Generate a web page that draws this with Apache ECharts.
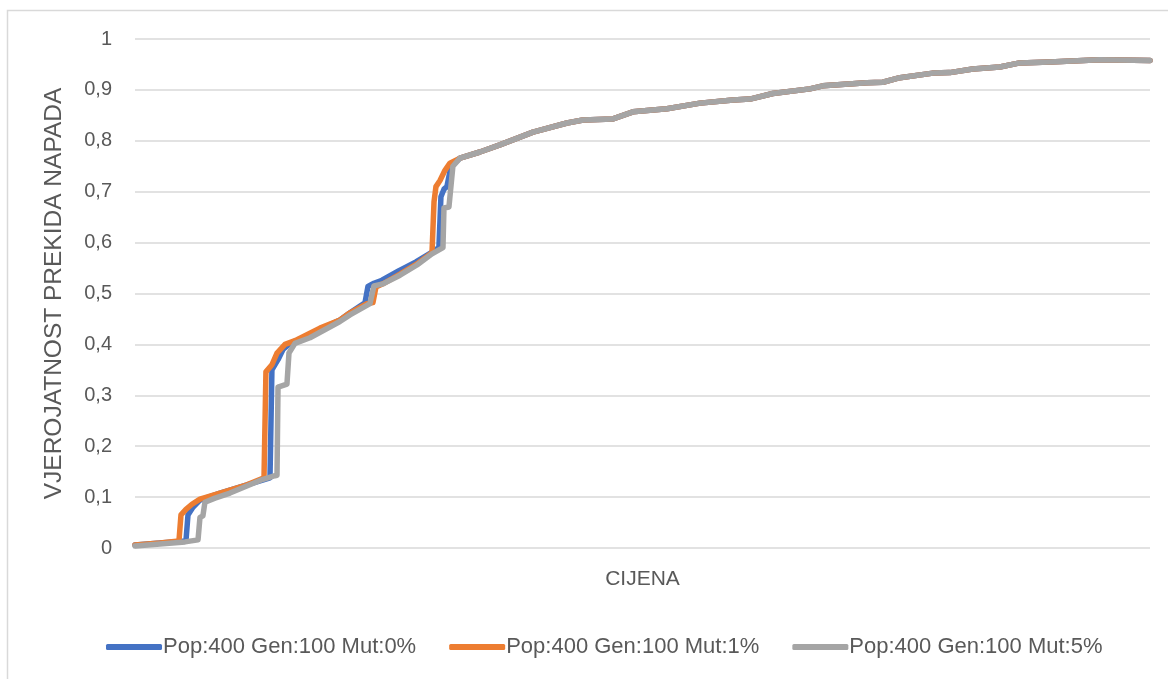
<!DOCTYPE html>
<html>
<head>
<meta charset="utf-8">
<script src="https://cdn.jsdelivr.net/npm/echarts@6/dist/echarts.min.js"></script>
<style>
  html, body { margin: 0; padding: 0; background: #fff; }
  #chart { width: 1168px; height: 679px; }
</style>
</head>
<body>
<div id="chart"></div>
<script>
// serije (legenda)
const seriesNames = ['Pop:400 Gen:100 Mut:0%', 'Pop:400 Gen:100 Mut:1%', 'Pop:400 Gen:100 Mut:5%'];
const seriesColors = ['#4472C4', '#ED7D31', '#A5A5A5'];

// zajednički kraj krivulja (cijena 0-1000, vjerojatnost)
const tailX = [320.2, 339.8, 359.5, 392.1, 425.6, 441.4, 470.9, 490.6, 524.1, 556.7, 589.2, 605.9, 628.4, 664.9, 677.7, 721.1, 736.8, 753.6, 786.1, 802.8, 825.4, 852.0, 871.7, 901.3, 950.5, 1000];
const tailY = [0.766, 0.778, 0.792, 0.817, 0.835, 0.841, 0.843, 0.857, 0.863, 0.874, 0.880, 0.882, 0.893, 0.902, 0.908, 0.914, 0.915, 0.924, 0.933, 0.934, 0.941, 0.945, 0.953, 0.955, 0.959, 0.958];

// Mut:0%
const mut0X = [0, 24.6, 50.2, 52.2, 57.1, 64.0, 83.7, 110.3, 133.0, 134.9, 140.9, 145.8, 152.7, 172.4, 201.9, 211.8, 226.6, 229.5, 235.4, 243.3, 260.1, 276.8, 291.5, 299.4, 301.4, 304.4, 307.3, 311.3];
const mut0Y = [0.006, 0.010, 0.014, 0.065, 0.080, 0.094, 0.108, 0.124, 0.138, 0.350, 0.370, 0.390, 0.402, 0.420, 0.448, 0.462, 0.482, 0.514, 0.520, 0.526, 0.545, 0.562, 0.580, 0.590, 0.690, 0.705, 0.710, 0.750];

// Mut:1%
const mut1X = [0, 24.6, 43.3, 45.3, 50.2, 56.1, 64.0, 83.7, 110.3, 127.1, 129.0, 134.9, 139.9, 147.8, 159.6, 182.2, 201.9, 211.8, 228.5, 234.4, 237.4, 244.3, 261.1, 277.8, 292.6, 294.6, 296.5, 300.5, 305.4, 310.3];
const mut1Y = [0.006, 0.010, 0.014, 0.065, 0.076, 0.086, 0.096, 0.108, 0.124, 0.138, 0.346, 0.360, 0.383, 0.400, 0.409, 0.432, 0.448, 0.462, 0.480, 0.482, 0.513, 0.519, 0.538, 0.558, 0.580, 0.680, 0.710, 0.722, 0.742, 0.756];

// Mut:5%
const mut5X = [0, 24.6, 49.3, 62.1, 64.0, 66.9, 68.9, 78.8, 93.6, 126.1, 137.9, 139.9, 140.9, 149.7, 151.7, 157.6, 172.4, 201.9, 211.8, 231.5, 235.4, 244.3, 261.1, 277.8, 292.6, 303.4, 304.4, 309.3, 313.2];
const mut5Y = [0.004, 0.008, 0.012, 0.016, 0.060, 0.063, 0.090, 0.098, 0.108, 0.135, 0.142, 0.143, 0.316, 0.322, 0.383, 0.402, 0.413, 0.445, 0.458, 0.480, 0.515, 0.519, 0.536, 0.556, 0.578, 0.590, 0.668, 0.670, 0.750];

const yTicks = [0, 0.1, 0.2, 0.3, 0.4, 0.5, 0.6, 0.7, 0.8, 0.9, 1];

function build(xs, ys) {
    const out = [];
    for (let i = 0; i < xs.length; i++) out.push([xs[i], ys[i]]);
    for (let i = 0; i < tailX.length; i++) out.push([tailX[i], tailY[i]]);
    return out;
}

const heads = [[mut0X, mut0Y], [mut1X, mut1Y], [mut5X, mut5Y]];
const textColor = '#595959';
const font = 'Liberation Sans';

const option = {
    animation: false,
    backgroundColor: '#fff',
    textStyle: { fontFamily: font },
    graphic: [{
        type: 'rect',
        shape: { x: 7.5, y: 10.5, width: 1200, height: 700 },
        style: { fill: 'none', stroke: '#d9d9d9', lineWidth: 1.5 },
        silent: true
    }],
    grid: { left: 135, right: 18, top: 39, bottom: 131 },
    legend: {
        bottom: 16,
        left: 101,
        itemWidth: 56,
        itemHeight: 6,
        itemGap: 33,
        icon: 'roundRect',
        textStyle: { color: textColor, fontSize: 22, fontFamily: font, padding: [0, 0, 0, -4] },
        data: seriesNames
    },
    xAxis: {
        type: 'value',
        min: 0,
        max: 1000,
        name: 'CIJENA',
        nameLocation: 'middle',
        nameGap: 21,
        nameTextStyle: { color: textColor, fontSize: 21, fontFamily: font },
        axisLine: { show: false },
        axisTick: { show: false },
        axisLabel: { show: false },
        splitLine: { show: false }
    },
    yAxis: {
        type: 'value',
        min: 0,
        max: 1,
        interval: 0.1,
        name: 'VJEROJATNOST PREKIDA NAPADA',
        nameLocation: 'middle',
        nameGap: 68,
        nameTextStyle: { color: textColor, fontSize: 24.5, fontFamily: font },
        axisLine: { show: false },
        axisTick: { show: false },
        axisLabel: {
            color: textColor,
            fontSize: 20,
            margin: 23,
            formatter: function (v) {
                const t = yTicks.find(function (k) { return Math.abs(k - v) < 1e-6; });
                return String(t === undefined ? v : t).replace('.', ',');
            }
        },
        splitLine: { lineStyle: { color: '#d9d9d9', width: 1.5 } }
    },
    series: heads.map(function (h, i) {
        return {
            name: seriesNames[i],
            type: 'line',
            data: build(h[0], h[1]),
            showSymbol: false,
            symbol: 'none',
            color: seriesColors[i],
            lineStyle: { width: 5.5, color: seriesColors[i], cap: 'round', join: 'round' },
            z: 2 + i
        };
    })
};

const chart = echarts.init(document.getElementById('chart'));
chart.setOption(option);
</script>
</body>
</html>
